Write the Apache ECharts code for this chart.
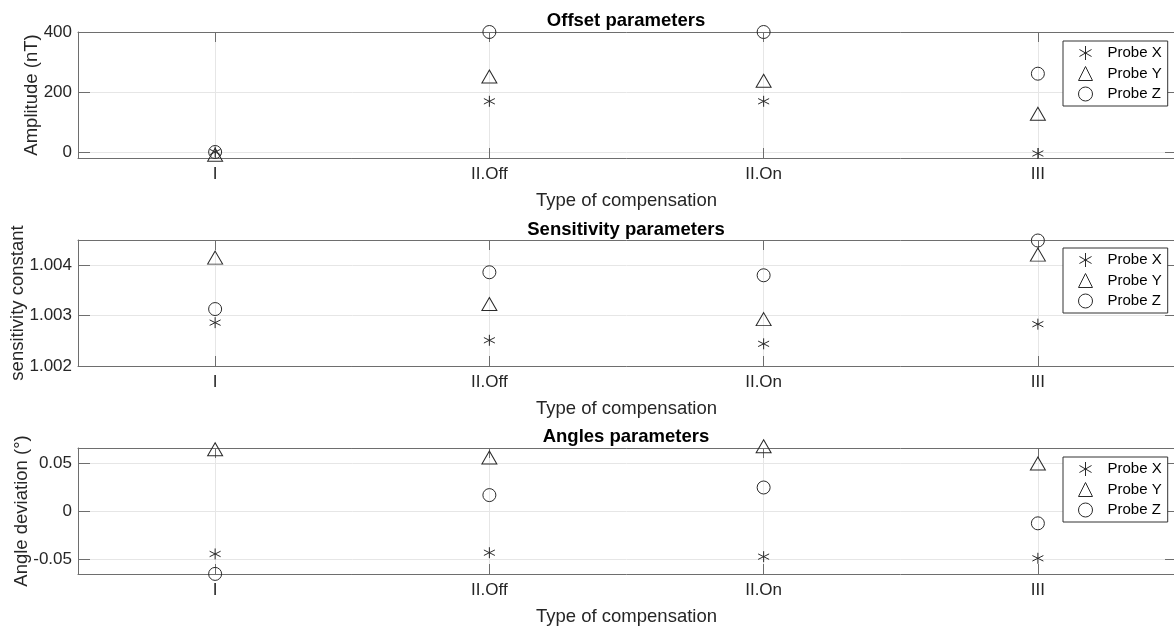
<!DOCTYPE html>
<html><head><meta charset="utf-8">
<script src="https://cdn.jsdelivr.net/npm/echarts@6/dist/echarts.min.js"></script>
<style>html,body{margin:0;padding:0;background:#fff}#c{width:1174px;height:627px}</style>
</head><body><div id="c"></div>
<script>
// ---- data ----
const categories = ['I', 'II.Off', 'II.On', 'III'];
const seriesNames = ['Probe X', 'Probe Y', 'Probe Z'];
const offsetX = [0, 169, 169, -5];
const offsetY = [-16, 245, 231, 121];
const offsetZ = [0, 400, 400, 261];
const sensX = [1.00286, 1.00251, 1.00244, 1.00283];
const sensY = [1.00411, 1.00319, 1.00289, 1.00417];
const sensZ = [1.00313, 1.00386, 1.0038, 1.00449];
const angX = [-0.0445, -0.0432, -0.0473, -0.049];
const angY = [0.0621, 0.0535, 0.0652, 0.0473];
const angZ = [-0.0652, 0.0166, 0.0245, -0.0127];
const offsetTicks = [0, 200, 400];
const sensTicks = [1.002, 1.003, 1.004];
const angTicks = [-0.05, 0, 0.05];
const titles = ['Offset parameters', 'Sensitivity parameters', 'Angles parameters'];
const yNames = ['Amplitude (nT)', 'sensitivity constant', 'Angle deviation (°)'];
const xName = 'Type of compensation';

// ---- layout / style ----
const F = "'Liberation Sans', Arial, Helvetica, sans-serif";
const TXT = '#262626', AX = '#6e6e6e', GRID = '#e6e6e6', MK = '#2a2a2a';
const panels = [
  {top: 32, min: -20, max: 400, ticks: offsetTicks, fmt: v => String(v), data: [offsetX, offsetY, offsetZ], nameGap: 37, titleTop: 11, legendTop: 41},
  {top: 240, min: 1.002, max: 1.0045, ticks: sensTicks, fmt: v => v.toFixed(3), data: [sensX, sensY, sensZ], nameGap: 51, titleTop: 220, legendTop: 248},
  {top: 448, min: -0.0653, max: 0.0655, ticks: angTicks, fmt: v => String(v), data: [angX, angY, angZ], nameGap: 47, titleTop: 427, legendTop: 457}
];
const H = 126, LEFT = 78, W = 1097;
const xTickVals = categories.map((c, i) => i + 1);
const symbols = [
  {symbol: 'path://M5,0L5,10M0.67,2.5L9.33,7.5M0.67,7.5L9.33,2.5', size: 11, offset: [0, 0]},
  {symbol: 'triangle', size: [15, 13], offset: [0, -2]},
  {symbol: 'circle', size: 13, offset: [0, 0]}
];

const option = {
  animation: false,
  backgroundColor: '#fff',
  textStyle: {fontFamily: F},
  title: [], grid: [], xAxis: [], yAxis: [], series: [], legend: []
};

panels.forEach((p, g) => {
  option.title.push({
    text: titles[g], left: 626, top: p.titleTop, textAlign: 'center', padding: 0,
    textStyle: {fontFamily: F, fontSize: 18.5, fontWeight: 'bold', color: '#000'}
  });
  option.grid.push({left: LEFT, top: p.top, width: W, height: H, show: false, containLabel: false, outerBoundsMode: 'none'});
  const commonX = {type: 'value', gridIndex: g, min: 0.5, max: 4.5};
  option.xAxis.push(Object.assign({}, commonX, {
    position: 'bottom',
    axisLine: {show: true, onZero: false, lineStyle: {color: AX, width: 1}},
    axisTick: {show: true, inside: true, length: 10, customValues: xTickVals, lineStyle: {color: AX}},
    axisLabel: {show: true, customValues: xTickVals, formatter: v => categories[Math.round(v) - 1], margin: 8, fontSize: 17, color: TXT, fontFamily: F},
    splitLine: {show: true, lineStyle: {color: GRID, width: 1}},
    name: xName, nameLocation: 'middle', nameGap: 33, nameMoveOverlap: false,
    nameTextStyle: {fontSize: 18.5, color: TXT, fontFamily: F}
  }));
  option.xAxis.push(Object.assign({}, commonX, {
    position: 'top',
    axisLine: {show: true, onZero: false, lineStyle: {color: AX, width: 1}},
    axisTick: {show: true, inside: true, length: 10, customValues: xTickVals, lineStyle: {color: AX}},
    axisLabel: {show: false}, splitLine: {show: false}
  }));
  const commonY = {type: 'value', gridIndex: g, min: p.min, max: p.max};
  option.yAxis.push(Object.assign({}, commonY, {
    position: 'left',
    axisLine: {show: true, onZero: false, lineStyle: {color: AX, width: 1}},
    axisTick: {show: true, inside: true, length: 12, customValues: p.ticks, lineStyle: {color: AX}},
    axisLabel: {show: true, customValues: p.ticks, formatter: p.fmt, margin: 6, fontSize: 17, color: TXT, fontFamily: F},
    splitLine: {show: true, lineStyle: {color: GRID, width: 1}},
    name: yNames[g], nameLocation: 'middle', nameGap: p.nameGap, nameMoveOverlap: false,
    nameTextStyle: {fontSize: 18.5, color: TXT, fontFamily: F}
  }));
  option.yAxis.push(Object.assign({}, commonY, {
    position: 'right',
    axisLine: {show: true, onZero: false, lineStyle: {color: AX, width: 1}},
    axisTick: {show: true, inside: true, length: 10, customValues: p.ticks, lineStyle: {color: AX}},
    axisLabel: {show: false}, splitLine: {show: false}
  }));
  p.data.forEach((vals, s) => {
    const sym = symbols[s];
    option.series.push({
      type: 'scatter', name: seriesNames[s], xAxisIndex: 2 * g, yAxisIndex: 2 * g,
      data: vals.map((v, i) => [i + 1, v]),
      symbol: sym.symbol, symbolSize: sym.size, symbolOffset: sym.offset,
      clip: false,
      itemStyle: {color: s === 0 ? MK : 'rgba(255,255,255,0)', borderColor: MK, borderWidth: 1, opacity: 1},
      emphasis: {disabled: true}, silent: true, z: 3
    });
  });
  option.legend.push({
    data: seriesNames, orient: 'vertical', left: 1063, top: p.legendTop,
    padding: [4, 6, 4, 15], itemWidth: 14, itemHeight: 14, itemGap: 4.5,
    backgroundColor: '#fff', borderColor: '#333', borderWidth: 1, borderRadius: 0,
    selectedMode: false,
    itemStyle: {borderWidth: 1},
    textStyle: {fontFamily: F, fontSize: 15, color: '#000', lineHeight: 16, padding: [0, 0, 0, 10]}
  });
});

const chart = echarts.init(document.getElementById('c'), null, {renderer: 'canvas'});
chart.setOption(option);
</script></body></html>
